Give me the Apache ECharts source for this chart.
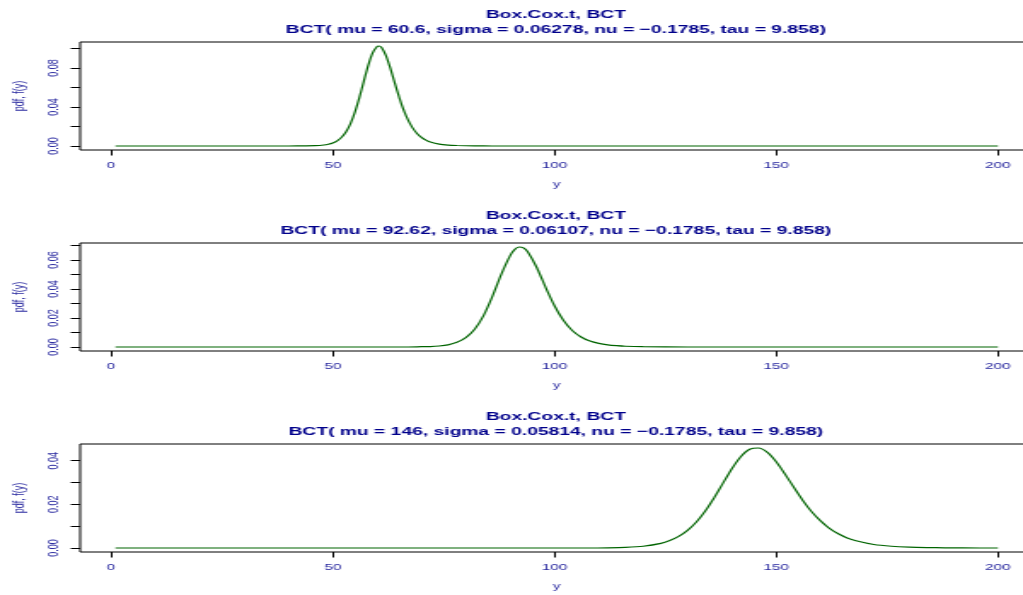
<!DOCTYPE html>
<html>
<head>
<meta charset="utf-8">
<script src="https://cdn.jsdelivr.net/npm/echarts@6/dist/echarts.min.js"></script>
<style>
  html, body { margin: 0; padding: 0; background: #ffffff; overflow: hidden; }
  /* the figure is laid out at 600px wide and stretched to fill the 1023px window */
  #chart { width: 600px; height: 595px; transform: scaleX(1.705); transform-origin: 0 0; }
</style>
</head>
<body>
<div id="chart"></div>
<script>
// BCT density, mu = 60.6
const pdfX1 = [1, 40, 44, 46, 48, 49, 50, 51, 52, 53, 54, 55, 56, 57, 58, 59, 60, 60.4, 61, 62, 63, 64, 65, 66, 67, 68, 69, 70, 71, 72, 74, 76, 78, 82, 86, 200];
const pdfY1 = [0, 0, 0.0001, 0.0003, 0.0010, 0.0018, 0.0031, 0.0053, 0.0089, 0.0146, 0.0230, 0.0347, 0.0495, 0.0663, 0.0827, 0.0955, 0.1020, 0.1025, 0.1009, 0.0926, 0.0795, 0.0644, 0.0497, 0.0368, 0.0265, 0.0186, 0.0129, 0.0088, 0.0060, 0.0041, 0.0019, 0.0009, 0.0005, 0.0001, 0, 0];

// BCT density, mu = 92.62
const pdfX2 = [1, 60, 66, 70, 72, 74, 76, 78, 80, 82, 84, 86, 88, 90, 91, 92, 93, 94, 96, 98, 100, 102, 104, 106, 108, 110, 112, 114, 116, 120, 130, 200];
const pdfY2 = [0, 0, 0, 0.0002, 0.0003, 0.0007, 0.0015, 0.0032, 0.0064, 0.0122, 0.0216, 0.0349, 0.0501, 0.0630, 0.0671, 0.0689, 0.0683, 0.0655, 0.0548, 0.0411, 0.0284, 0.0184, 0.0114, 0.0069, 0.0041, 0.0025, 0.0015, 0.0009, 0.0005, 0.0002, 0, 0];

// BCT density, mu = 146
const pdfX3 = [1, 100, 108, 112, 116, 120, 124, 126, 128, 130, 132, 134, 136, 138, 140, 142, 144, 146, 148, 150, 152, 154, 156, 158, 160, 162, 164, 166, 168, 172, 176, 180, 184, 188, 196, 200];
const pdfY3 = [0, 0, 0, 0.0001, 0.0003, 0.0008, 0.0021, 0.0034, 0.0053, 0.0081, 0.0119, 0.0169, 0.0230, 0.0297, 0.0363, 0.0418, 0.0452, 0.0458, 0.0438, 0.0395, 0.0338, 0.0277, 0.0218, 0.0166, 0.0124, 0.0090, 0.0065, 0.0046, 0.0033, 0.0016, 0.0008, 0.0004, 0.0002, 0.0001, 0, 0];

// distribution parameters shown in the panel titles
const muVals = ['60.6', '92.62', '146'];
const sigmaVals = ['0.06278', '0.06107', '0.05814'];
const nuVal = '\u22120.1785';
const tauVal = '9.858';

// axis ticks and labels
const xTicks = [0, 50, 100, 150, 200];
const yTicks1 = [0, 0.02, 0.04, 0.06, 0.08, 0.10];
const yLabels1 = [0, 0.04, 0.08];
const yTicks2 = [0, 0.01, 0.02, 0.03, 0.04, 0.05, 0.06, 0.07];
const yLabels2 = [0, 0.02, 0.04, 0.06];
const yTicks3 = [0, 0.01, 0.02, 0.03, 0.04];
const yLabels3 = [0, 0.02, 0.04];

const panels = [
  { xs: pdfX1, ys: pdfY1, ticks: yTicks1, labels: yLabels1 },
  { xs: pdfX2, ys: pdfY2, ticks: yTicks2, labels: yLabels2 },
  { xs: pdfX3, ys: pdfY3, ticks: yTicks3, labels: yLabels3 }
];

const FONT = 'Liberation Sans, Arial, Helvetica, sans-serif';
const TITLE_COLOR = '#00008B';
const LABEL_COLOR = '#2a2aa0';
const LINE_COLOR = '#006400';

// R-style 4% padding around the data range
const allX = pdfX1.concat(pdfX2, pdfX3);
const xLo = Math.min(...allX), xHi = Math.max(...allX);
const xPad = 0.04 * (xHi - xLo);

const PANEL_STEP = 201;
const BOX_TOP = 42;
const BOX_H = 108;
const BOX_LEFT = 47;
const BOX_W = 559;

const chart = echarts.init(document.getElementById('chart'), null, { renderer: 'canvas' });

const option = {
  animation: false,
  backgroundColor: '#ffffff',
  title: panels.map((p, i) => ({
    text: 'Box.Cox.t, BCT\nBCT( mu = ' + muVals[i] + ', sigma = ' + sigmaVals[i] +
          ', nu = ' + nuVal + ', tau = ' + tauVal + ')',
    left: BOX_LEFT + BOX_W / 2 - 0.5,
    top: BOX_TOP - 35 + i * PANEL_STEP,
    textAlign: 'center',
    padding: 0,
    textStyle: { fontFamily: FONT, fontWeight: 'bold', fontSize: 11.3, color: TITLE_COLOR, lineHeight: 15.5 }
  })),
  grid: panels.map((p, i) => ({
    left: BOX_LEFT, top: BOX_TOP + i * PANEL_STEP, width: BOX_W, height: BOX_H,
    outerBoundsMode: 'none', containLabel: false,
    show: true, borderColor: '#000000', borderWidth: 1, backgroundColor: 'transparent'
  })),
  xAxis: panels.map((p, i) => ({
    type: 'value', gridIndex: i,
    min: xLo - xPad, max: xHi + xPad,
    axisLine: { show: false, onZero: false },
    splitLine: { show: false },
    axisTick: { show: true, customValues: xTicks, length: 5.5, lineStyle: { color: '#000000', width: 1 } },
    axisLabel: { customValues: xTicks, margin: 11, fontSize: 9, fontFamily: FONT, color: LABEL_COLOR },
    name: 'y', nameLocation: 'middle', nameGap: 30,
    nameTextStyle: { fontSize: 9, fontFamily: FONT, color: LABEL_COLOR }
  })),
  yAxis: panels.map((p, i) => {
    const top = Math.max(...p.ys);
    return {
      type: 'value', gridIndex: i,
      min: -0.04 * top, max: 1.04 * top,
      axisLine: { show: false, onZero: false },
      splitLine: { show: false },
      axisTick: { show: true, customValues: p.ticks, length: 5.5, lineStyle: { color: '#000000', width: 1 } },
      axisLabel: {
        customValues: p.labels, rotate: 90, margin: 11, fontSize: 9, fontFamily: FONT, color: LABEL_COLOR,
        formatter: v => v.toFixed(2)
      },
      name: 'pdf, f(y)', nameLocation: 'middle', nameRotate: 90, nameGap: 31,
      nameTextStyle: { fontSize: 9, fontFamily: FONT, color: LABEL_COLOR }
    };
  }),
  series: panels.map((p, i) => ({
    type: 'line', xAxisIndex: i, yAxisIndex: i,
    data: p.xs.map((x, j) => [x, p.ys[j]]),
    symbol: 'none', showSymbol: false, smooth: 0.2, silent: true,
    lineStyle: { color: LINE_COLOR, width: 1.2 }
  }))
};

chart.setOption(option);
</script>
</body>
</html>
